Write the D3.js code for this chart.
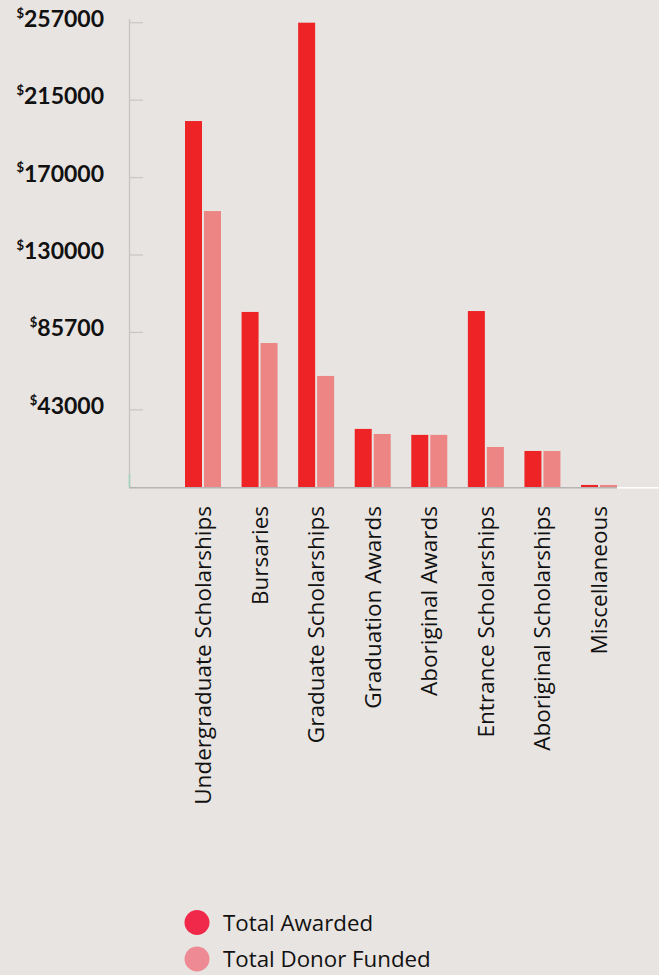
<!DOCTYPE html>
<html>
<head>
<meta charset="utf-8">
<script src="https://cdn.jsdelivr.net/npm/d3@7"></script>
<style>
  body { margin: 0; background: #e8e4e1; }
  svg { display: block; }
  text { font-family: "Open Sans", Lato, sans-serif; fill: #111; }
</style>
</head>
<body>
<script>
// chart data
const categories = ['Undergraduate Scholarships', 'Bursaries', 'Graduate Scholarships',
  'Graduation Awards', 'Aboriginal Awards', 'Entrance Scholarships',
  'Aboriginal Scholarships', 'Miscellaneous'];
const totalAwarded = [202600, 97000, 257000, 32300, 29000, 97500, 20100, 1300];
const totalDonorFunded = [152800, 79800, 61600, 29500, 29000, 22300, 20100, 1300];
const seriesNames = ['Total Awarded', 'Total Donor Funded'];
const tickLabels = ['43000', '85700', '130000', '170000', '215000', '257000'];
const yMax = 257000;

const width = 659, height = 975;
const colors = ['#ee2326', '#ec8583'];
const legendColors = ['#f0294a', '#ee8a94'];

const svg = d3.select('body').append('svg')
  .attr('width', width)
  .attr('height', height);

const data = categories.map((c, i) => ({ cat: c, values: [totalAwarded[i], totalDonorFunded[i]] }));

const x = d3.scaleBand()
  .domain(categories)
  .range([185, 617])
  .paddingInner(0.364)
  .paddingOuter(0);

const xSub = d3.scaleBand()
  .domain(seriesNames)
  .range([0, x.bandwidth()])
  .paddingInner(0.105);

const y = d3.scaleLinear()
  .domain([0, yMax])
  .range([487.3, 22.7]);

// y axis line + ticks (ticks point inward)
svg.append('line')
  .attr('x1', 129.5).attr('x2', 129.5)
  .attr('y1', 19).attr('y2', y(0))
  .attr('stroke', '#c4c4c4').attr('stroke-width', 1.3);

svg.append('line')
  .attr('x1', 129.5).attr('x2', 129.5)
  .attr('y1', 474).attr('y2', y(0))
  .attr('stroke', '#9fd0c2').attr('stroke-width', 1.5);

const tickVals = tickLabels.map((t, i) => yMax * (i + 1) / tickLabels.length);

const ticks = svg.append('g').selectAll('g')
  .data(tickVals)
  .join('g')
  .attr('transform', d => `translate(0,${y(d)})`);

ticks.append('line')
  .attr('x1', 129.5).attr('x2', 143)
  .attr('stroke', '#c8c8c8').attr('stroke-width', 1.3);

const lbl = ticks.append('text')
  .attr('x', 104)
  .attr('dy', '0.36em')
  .attr('text-anchor', 'end')
  .style('font-family', 'Lato, sans-serif')
  .style('font-weight', 'bold')
  .style('font-size', '23px');
lbl.append('tspan')
  .attr('dy', '-0.4em')
  .style('font-size', '13px')
  .text('$');
lbl.append('tspan')
  .attr('dy', '0.4em')
  .text((d, i) => tickLabels[i]);

// bars
const groups = svg.append('g').selectAll('g')
  .data(data)
  .join('g')
  .attr('transform', d => `translate(${x(d.cat)},0)`);

groups.selectAll('rect')
  .data(d => d.values.map((v, i) => ({ key: seriesNames[i], value: v, i })))
  .join('rect')
  .attr('x', d => xSub(d.key))
  .attr('width', xSub.bandwidth())
  .attr('y', d => y(d.value))
  .attr('height', d => y(0) - y(d.value))
  .attr('fill', d => colors[d.i]);

// baseline
svg.append('line')
  .attr('x1', 129).attr('x2', 617)
  .attr('y1', y(0) + 0.5).attr('y2', y(0) + 0.5)
  .attr('stroke', '#b5b5b5').attr('stroke-width', 1.5);
svg.append('line')
  .attr('x1', 617).attr('x2', width)
  .attr('y1', y(0) + 0.5).attr('y2', y(0) + 0.5)
  .attr('stroke', '#ffffff').attr('stroke-width', 1.5);

// category labels, rotated
svg.append('g').selectAll('text')
  .data(categories)
  .join('text')
  .attr('transform', d => `translate(${x(d) + x.bandwidth() / 2 + 8},506) rotate(-90)`)
  .attr('text-anchor', 'end')
  .style('font-size', '22.5px')
  .text(d => d);

// legend
const legend = svg.append('g').selectAll('g')
  .data(seriesNames)
  .join('g')
  .attr('transform', (d, i) => `translate(197,${922.5 + i * 36.5})`);

legend.append('circle')
  .attr('r', 12.5)
  .attr('fill', (d, i) => legendColors[i]);

legend.append('text')
  .attr('x', 26)
  .attr('dy', '0.36em')
  .style('font-size', '22.3px')
  .text(d => d);
</script>
</body>
</html>
